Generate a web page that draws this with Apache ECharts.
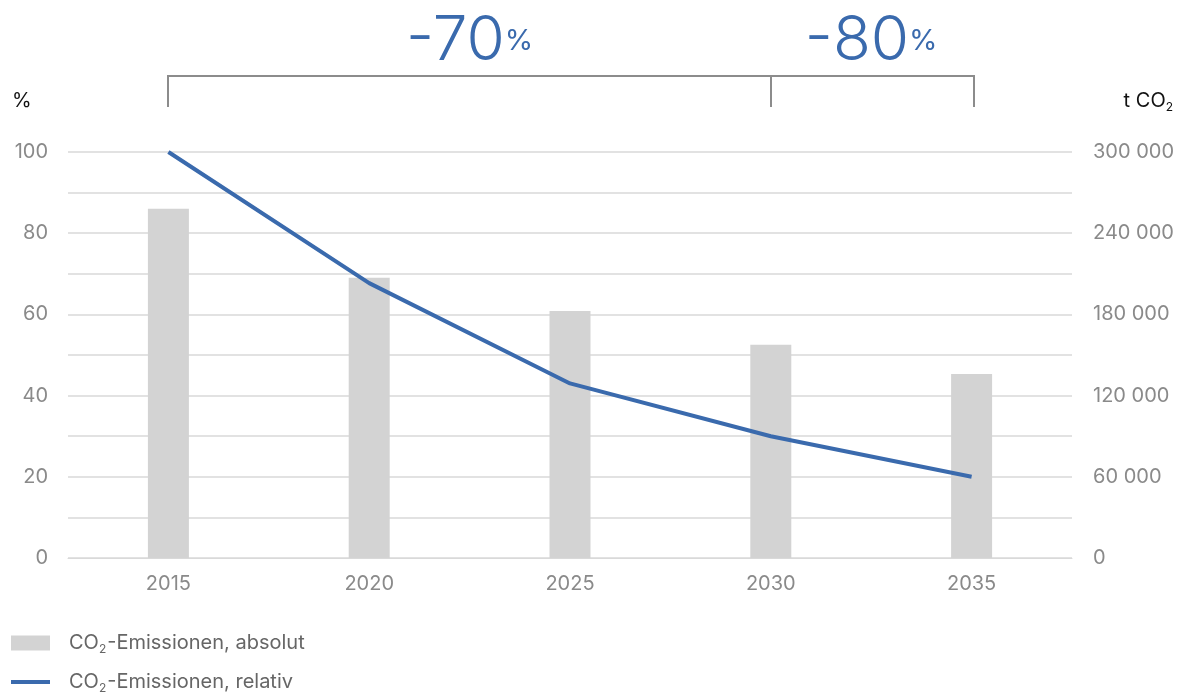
<!DOCTYPE html>
<html><head><meta charset="utf-8">
<script src="https://cdn.jsdelivr.net/npm/echarts@6/dist/echarts.min.js"></script>
<style>html,body{margin:0;padding:0;background:#fff}#c{width:1182px;height:693px}</style>
</head><body><div id="c"></div>
<script>
const categories = ['2015','2020','2025','2030','2035'];
const absoluteValues = [258000, 207000, 182500, 157500, 136000];
const relativeValues = [100, 67.7, 43, 30, 20];
const leftTicks = [0, 20, 40, 60, 80, 100];
const rightTicks = [0, 60000, 120000, 180000, 240000, 300000];
const reductions = [{from:'2015', to:'2030', label:'-70'}, {from:'2030', to:'2035', label:'-80'}];
const seriesNames = ['CO2-Emissionen, absolut', 'CO2-Emissionen, relativ'];

const FONT = 'Inter';
const GRAY = '#8a8a8a';
const BLUE = '#3a6aad';
const FS = 20;
const chart = echarts.init(document.getElementById('c'));
function fmtThousands(v){ return String(v).replace(/\B(?=(\d{3})+(?!\d))/g, ' '); }
function co2Rich(name){ return '{a|CO}{s|2}{a|' + name.replace('CO2','') + '}'; }
const legendRich = {
  a: {fontSize: FS, color: '#666', fontFamily: FONT, lineHeight: 24, verticalAlign: 'middle'},
  s: {fontSize: 12, color: '#666', fontFamily: FONT, lineHeight: 24, verticalAlign: 'bottom', padding: [0,1,0,0]}
};
function legendCfg(top, item){
  return {
    orient: 'vertical', left: 11, top: top, padding: 0,
    itemWidth: 39, itemHeight: 15,
    formatter: co2Rich,
    textStyle: {color: '#666', fontSize: FS, fontFamily: FONT, padding: [0,0,0,14], rich: legendRich},
    data: [item]
  };
}

chart.setOption({
  animation: false,
  textStyle: {fontFamily: FONT},
  grid: {left: 68, right: 110, top: 152, bottom: 135},
  legend: [
    legendCfg(633, {name: seriesNames[0], icon: 'rect'}),
    legendCfg(672, {name: seriesNames[1], icon: 'path://M0 0H40V4H0Z'})
  ],
  xAxis: {
    type: 'category', data: categories,
    axisLine: {show: true, lineStyle: {color: '#d9d9d9', width: 1}},
    axisTick: {show: false},
    axisLabel: {color: GRAY, fontSize: FS, margin: 16, fontFamily: FONT}
  },
  yAxis: [{
    type: 'value', min: 0, max: 100, interval: 10,
    axisLine: {show: false}, axisTick: {show: false},
    axisLabel: {color: GRAY, fontSize: FS, margin: 20, fontFamily: FONT,
      formatter: v => (leftTicks.indexOf(v) >= 0 ? String(v) : '')},
    splitLine: {show: true, lineStyle: {color: '#d9d9d9', width: 1.5}}
  }, {
    type: 'value', min: 0, max: 300000, interval: 30000,
    axisLine: {show: false}, axisTick: {show: false},
    axisLabel: {color: GRAY, fontSize: FS, margin: 21, fontFamily: FONT,
      formatter: v => (rightTicks.indexOf(v) >= 0 ? fmtThousands(v) : '')},
    splitLine: {show: false}
  }],
  series: [{
    name: seriesNames[0], type: 'bar', yAxisIndex: 1, data: absoluteValues,
    barWidth: 41, itemStyle: {color: '#d3d3d3'}, z: 1
  }, {
    name: seriesNames[1], type: 'line', yAxisIndex: 0, data: relativeValues,
    symbol: 'none', showSymbol: false,
    lineStyle: {color: BLUE, width: 4, join: 'round', cap: 'butt'},
    itemStyle: {color: BLUE}, z: 3
  }]
});

// Annotations computed from the axis scale
const px = c => chart.convertToPixel({xAxisIndex: 0}, c);
const bracketTop = 76, bracketBottom = 107;
const xs = [];
reductions.forEach(r => { xs.push(px(r.from)); xs.push(px(r.to)); });
const xMin = Math.min.apply(null, xs), xMax = Math.max.apply(null, xs) + 2;
const uniqueX = Array.from(new Set(xs.map(Math.round)));
uniqueX[uniqueX.length - 1] = Math.round(xMax);
const graphics = [];
graphics.push({type: 'line', shape: {x1: xMin, y1: bracketTop, x2: xMax, y2: bracketTop},
  style: {stroke: '#8c8c8c', lineWidth: 2}});
uniqueX.forEach(x => graphics.push({type: 'line', shape: {x1: x, y1: bracketTop - 1, x2: x, y2: bracketBottom},
  style: {stroke: '#8c8c8c', lineWidth: 2}}));
reductions.forEach(r => {
  const cx = (px(r.from) + px(r.to)) / 2;
  graphics.push({type: 'text', x: cx, y: 72,
    style: {text: '{b|' + r.label + '}{p|%}', align: 'center', verticalAlign: 'bottom',
      rich: {
        b: {fontSize: 62, fontWeight: 300, fill: BLUE, fontFamily: FONT, lineHeight: 64, verticalAlign: 'bottom'},
        p: {fontSize: 29, fontWeight: 400, fill: BLUE, fontFamily: FONT, lineHeight: 64, verticalAlign: 'bottom', padding: [0,0,16,0]}
      }}});
});
graphics.push({type: 'text', x: 12, y: 101, style: {text: '%', fill: '#111', font: '20px ' + FONT, verticalAlign: 'middle'}});
graphics.push({type: 'text', x: 1173, y: 101, style: {text: '{a|t CO}{s|2}', align: 'right', verticalAlign: 'middle',
  rich: {a: {fontSize: FS, fill: '#111', fontFamily: FONT, lineHeight: 24, verticalAlign: 'middle'},
         s: {fontSize: 12, fill: '#111', fontFamily: FONT, lineHeight: 24, verticalAlign: 'bottom'}}}});
chart.setOption({graphic: {elements: graphics}});
</script></body></html>
